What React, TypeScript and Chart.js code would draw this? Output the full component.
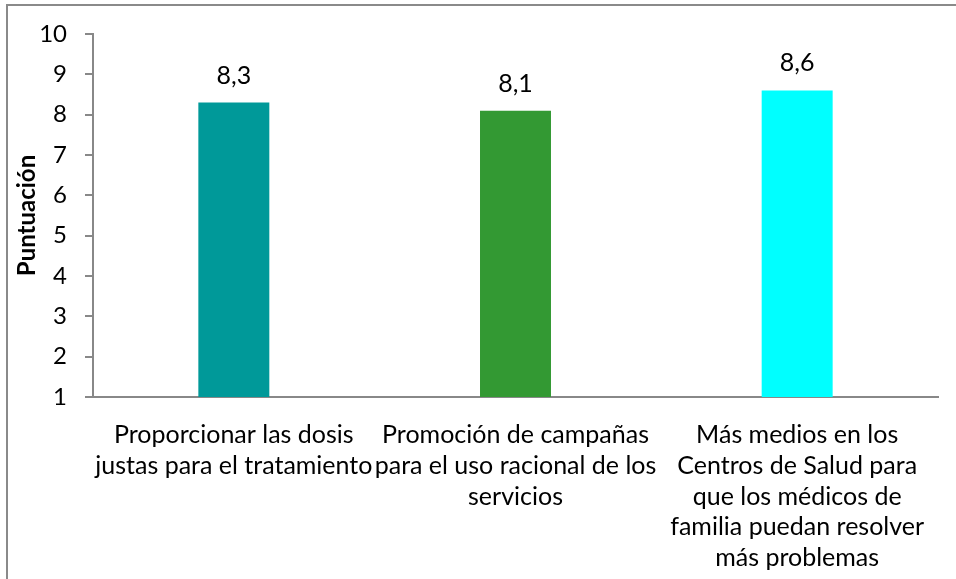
import React, { useEffect, useRef } from "react";
import { Chart, registerables } from "chart.js";

Chart.register(...registerables);

const categories: string[][] = [
  ["Proporcionar las dosis", "justas para el tratamiento"],
  ["Promoción de campañas", "para el uso racional de los", "servicios"],
  ["Más medios en los", "Centros de Salud para", "que los médicos de", "familia puedan resolver", "más problemas"],
];
const values: number[] = [8.3, 8.1, 8.6];
const barColors: string[] = ["#009999", "#339933", "#00FFFF"];
const yMin = 1;
const yMax = 10;
const yTitle = "Puntuación";

const FONT = "Lato, 'Open Sans', sans-serif";
const AXIS = "#888888";

const frame = {
  id: "frame",
  beforeDraw(chart: any) {
    const { ctx } = chart;
    ctx.save();
    ctx.fillStyle = "#ffffff";
    ctx.fillRect(0, 0, chart.width, chart.height);
    ctx.strokeStyle = "#8a8a8a";
    ctx.lineWidth = 2;
    ctx.beginPath();
    ctx.moveTo(7, chart.height + 5);
    ctx.lineTo(7, 5);
    ctx.lineTo(chart.width + 5, 5);
    ctx.stroke();
    ctx.restore();
  },
};

const dataLabels = {
  id: "dataLabels",
  afterDatasetsDraw(chart: any) {
    const { ctx } = chart;
    const meta = chart.getDatasetMeta(0);
    ctx.save();
    ctx.font = `25px ${FONT}`;
    ctx.fillStyle = "#000";
    ctx.textAlign = "center";
    ctx.textBaseline = "alphabetic";
    meta.data.forEach((bar: any, i: number) => {
      const v = chart.data.datasets[0].data[i] as number;
      ctx.fillText(v.toFixed(1).replace(".", ","), bar.x, bar.y - 19);
    });
    ctx.restore();
  },
};

export default function App() {
  const ref = useRef<HTMLCanvasElement>(null);
  useEffect(() => {
    if (!ref.current) return;
    const chart = new Chart(ref.current, {
      type: "bar",
      data: {
        labels: categories,
        datasets: [
          {
            data: values,
            backgroundColor: barColors,
            borderWidth: 0,
            barPercentage: 0.252,
            categoryPercentage: 1,
          },
        ],
      },
      options: {
        animation: false,
        responsive: false,
        layout: { padding: { top: 34, right: 18, left: 0, bottom: 0 } },
        plugins: { legend: { display: false }, tooltip: { enabled: false } },
        scales: {
          x: {
            grid: { display: false, drawTicks: false },
            border: { display: true, color: AXIS, width: 2 },
            ticks: {
              color: "#000",
              font: { family: FONT, size: 25, lineHeight: 1.225 },
              maxRotation: 0,
              minRotation: 0,
              autoSkip: false,
              padding: 23,
            },
            afterFit(scale: any) {
              scale.height = 182;
            },
          },
          y: {
            min: yMin,
            max: yMax,
            grid: {
              display: true,
              drawOnChartArea: false,
              drawTicks: true,
              tickLength: 8,
              color: AXIS,
              lineWidth: 2,
            },
            border: { display: true, color: AXIS, width: 2 },
            ticks: {
              stepSize: 1,
              color: "#000",
              font: { family: FONT, size: 24 },
              padding: 18,
            },
            title: {
              display: true,
              text: yTitle,
              color: "#000",
              font: { family: FONT, size: 24, weight: "bold" },
              padding: { top: 13, bottom: 0 },
            },
            afterFit(scale: any) {
              scale.width = 93;
            },
          },
        },
      },
      plugins: [frame, dataLabels],
    });
    return () => chart.destroy();
  }, []);
  return (
    <div style={{ position: "fixed", left: 0, top: 0, width: 956, height: 579, background: "#fff" }}>
      <canvas ref={ref} width={956} height={579} style={{ width: 956, height: 579, display: "block" }} />
    </div>
  );
}
